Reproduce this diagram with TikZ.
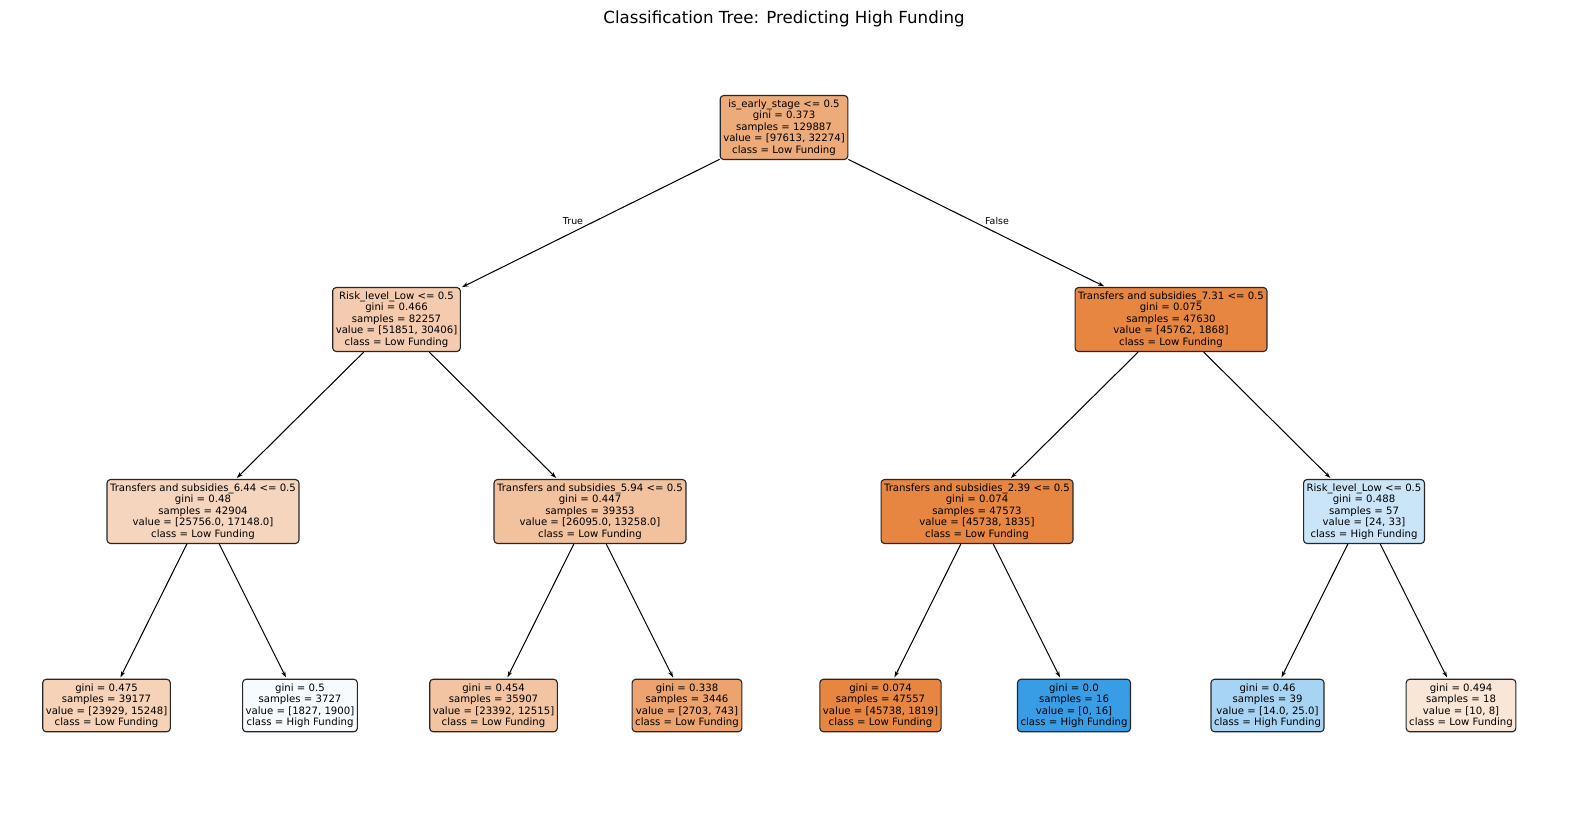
\documentclass[tikz,border=0pt]{standalone}
\usepackage{fontspec}
\setmainfont{DejaVu Sans}
\usetikzlibrary{arrows.meta}
\definecolor{torange}{RGB}{229,129,57}
\definecolor{tblue}{RGB}{57,157,229}
\tikzset{
  treenode/.style={draw=black!85, line width=0.8pt, rounded corners=2.5pt, align=center,
    font=\fontsize{7.3}{8.3}\selectfont, inner xsep=2.2pt, inner ysep=2.9pt},
  edge/.style={draw=black, line width=0.75pt, -{Stealth[length=4.5pt,width=3pt]}, shorten >=1pt},
  elabel/.style={font=\fontsize{6.8}{8}\selectfont, inner sep=0pt},
  title/.style={font=\fontsize{12}{14}\selectfont, inner sep=0pt}
}
\begin{document}
\begin{tikzpicture}[x=0.72pt,y=-0.72pt]
\useasboundingbox (0,0) rectangle (1570,812);
\node[title] (title) at (784,19) {Classification Tree: Predicting High Funding};

\node[treenode, fill=torange!67!white] (r) at (784,127.5) {is\_early\_stage <= 0.5\\gini = 0.373\\samples = 129887\\value = [97613, 32274]\\class = Low Funding};

\node[treenode, fill=torange!41!white] (a) at (396.5,319.5) {Risk\_level\_Low <= 0.5\\gini = 0.466\\samples = 82257\\value = [51851, 30406]\\class = Low Funding};
\node[treenode, fill=torange!96!white] (b) at (1171,319.5) {Transfers and subsidies\_7.31 <= 0.5\\gini = 0.075\\samples = 47630\\value = [45762, 1868]\\class = Low Funding};

\node[treenode, fill=torange!33!white] (aa) at (203,511.5) {Transfers and subsidies\_6.44 <= 0.5\\gini = 0.48\\samples = 42904\\value = [25756.0, 17148.0]\\class = Low Funding};
\node[treenode, fill=torange!49!white] (ab) at (590,511.5) {Transfers and subsidies\_5.94 <= 0.5\\gini = 0.447\\samples = 39353\\value = [26095.0, 13258.0]\\class = Low Funding};
\node[treenode, fill=torange!96!white] (ba) at (977,511.5) {Transfers and subsidies\_2.39 <= 0.5\\gini = 0.074\\samples = 47573\\value = [45738, 1835]\\class = Low Funding};
\node[treenode, fill=tblue!27!white] (bb) at (1364,511.5) {Risk\_level\_Low <= 0.5\\gini = 0.488\\samples = 57\\value = [24, 33]\\class = High Funding};

\node[treenode, fill=torange!36!white] (l1) at (106.5,705.5) {gini = 0.475\\samples = 39177\\value = [23929, 15248]\\class = Low Funding};
\node[treenode, fill=tblue!4!white] (l2) at (300,705.5) {gini = 0.5\\samples = 3727\\value = [1827, 1900]\\class = High Funding};
\node[treenode, fill=torange!47!white] (l3) at (493.5,705.5) {gini = 0.454\\samples = 35907\\value = [23392, 12515]\\class = Low Funding};
\node[treenode, fill=torange!73!white] (l4) at (687,705.5) {gini = 0.338\\samples = 3446\\value = [2703, 743]\\class = Low Funding};
\node[treenode, fill=torange!96!white] (l5) at (880.5,705.5) {gini = 0.074\\samples = 47557\\value = [45738, 1819]\\class = Low Funding};
\node[treenode, fill=tblue] (l6) at (1074,705.5) {gini = 0.0\\samples = 16\\value = [0, 16]\\class = High Funding};
\node[treenode, fill=tblue!44!white] (l7) at (1267.5,705.5) {gini = 0.46\\samples = 39\\value = [14.0, 25.0]\\class = High Funding};
\node[treenode, fill=torange!20!white] (l8) at (1461,705.5) {gini = 0.494\\samples = 18\\value = [10, 8]\\class = Low Funding};

\draw[edge] (r) -- (a);
\draw[edge] (r) -- (b);
\draw[edge] (a) -- (aa);
\draw[edge] (a) -- (ab);
\draw[edge] (b) -- (ba);
\draw[edge] (b) -- (bb);
\draw[edge] (aa) -- (l1);
\draw[edge] (aa) -- (l2);
\draw[edge] (ab) -- (l3);
\draw[edge] (ab) -- (l4);
\draw[edge] (ba) -- (l5);
\draw[edge] (ba) -- (l6);
\draw[edge] (bb) -- (l7);
\draw[edge] (bb) -- (l8);

\node[elabel] (lt) at (573,221) {True};
\node[elabel] (lf) at (997,221) {False};
\end{tikzpicture}
\end{document}
